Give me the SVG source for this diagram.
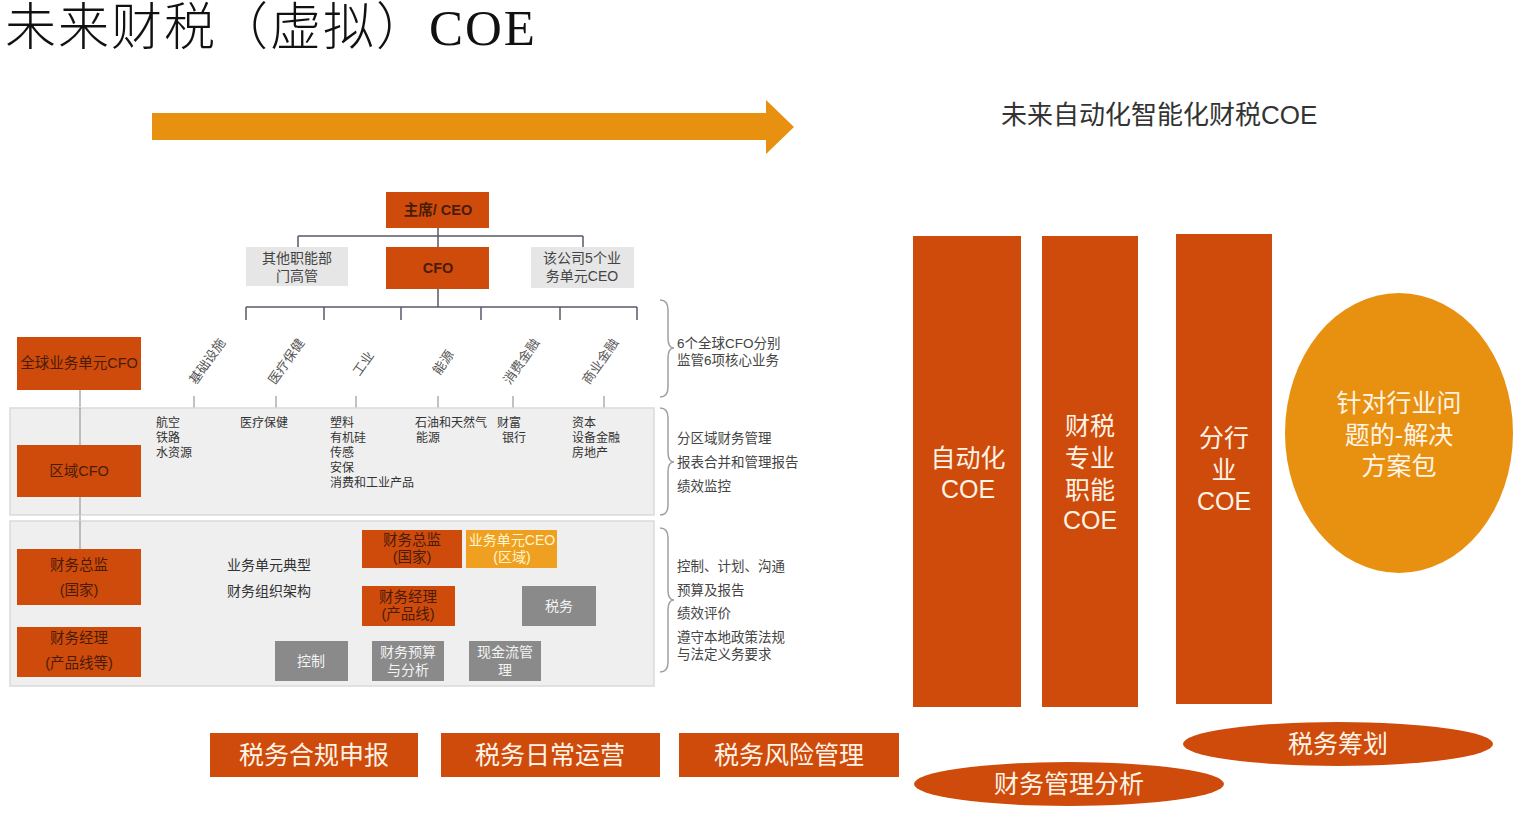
<svg xmlns="http://www.w3.org/2000/svg" width="1522" height="817" viewBox="0 0 1522 817">
<style>
text{font-family:"Liberation Sans","Noto Sans CJK SC",sans-serif}
.or{fill:#CE4B0B}
.am{fill:#E8900F}
.gl{fill:#E6E6E6}
.gd{fill:#8A8A8A}
.band{fill:#EFEFEF;stroke:#DADADA;stroke-width:1.5}
.ln{stroke:#5A5A6A;stroke-width:1.5;fill:none}
.lg{stroke:#9A9A9A;stroke-width:1.2;fill:none}
.br{stroke:#A0A0A0;stroke-width:1.5;fill:none}
.t14{font-size:14.5px;fill:#4A1C08;text-anchor:middle}
.tg{font-size:14px;fill:#444;text-anchor:middle}
.tw{font-size:14px;fill:#F3F3F3;text-anchor:middle}
.s12{font-size:12px;fill:#333}
.rt{font-size:13px;fill:#555;text-anchor:middle}
.side{font-size:13.5px;fill:#444}
.big{font-size:25px;fill:#FFF3E6;text-anchor:middle}
.bot{font-size:25px;fill:#FFF3E6;text-anchor:middle}
</style>
<rect width="1522" height="817" fill="#FFFFFF"/>
<text x="5" y="45" style="font-family:'Liberation Serif','Noto Sans CJK SC',serif;font-size:51px;font-weight:300;fill:#111;letter-spacing:2px">未来财税（虚拟）COE</text>
<g id="arrow"><polygon class="am" points="152,113 766,113 766,100 794,127 766,154 766,140 152,140"/></g>
<text x="1001" y="124" style="font-size:26px;fill:#333">未来自动化智能化财税COE</text>

<g id="connectors">
<path class="ln" d="M438,228 V247 M298,236 H583 M298,236 V247 M583,236 V247"/>
<path class="ln" d="M438,289 V307 M246,307 H637 M246,307 V320 M324,307 V320 M401,307 V320 M481,307 V320 M560,307 V320 M637,307 V320"/>
<path class="lg" d="M194,396 V410 M276,396 V410 M356,396 V410 M438,396 V410 M513,396 V410 M604,396 V410"/>
<path class="lg" d="M80,390 V445 M80,497 V549 M80,605 V627"/>
<path class="lg" d="M410,568 V586 M410,577 H560 M514,568 V577 M560,577 V586"/>
<path class="lg" d="M410,626 V634 M312,634 H506 M312,634 V641 M408,634 V641 M506,634 V641"/>
</g>

<g id="band1"><rect class="band" x="10" y="408" width="644" height="107"/></g>
<g id="band2"><rect class="band" x="10" y="521" width="644" height="165"/></g>
<path class="lg" d="M80,408 V515 M80,521 V549"/>

<g id="ceo"><rect class="or" x="386" y="192" width="103" height="36"/><text class="t14" x="438" y="215" font-weight="bold">主席/ CEO</text></g>
<g id="other"><rect class="gl" x="246" y="247" width="102" height="39"/><text class="tg" x="297" y="263">其他职能部<tspan x="297" dy="18">门高管</tspan></text></g>
<g id="cfo"><rect class="or" x="386" y="247" width="103" height="42"/><text class="t14" x="438" y="273" font-weight="bold">CFO</text></g>
<g id="bu5"><rect class="gl" x="531" y="247" width="103" height="41"/><text class="tg" x="582" y="263">该公司5个业<tspan x="582" dy="18">务单元CEO</tspan></text></g>

<g id="rot">
<text class="rt" transform="translate(211,364) rotate(-55)">基础设施</text>
<text class="rt" transform="translate(290,364) rotate(-55)">医疗保健</text>
<text class="rt" transform="translate(367,366) rotate(-55)">工业</text>
<text class="rt" transform="translate(447,365) rotate(-55)">能源</text>
<text class="rt" transform="translate(525,364) rotate(-55)">消费金融</text>
<text class="rt" transform="translate(604,364) rotate(-55)">商业金融</text>
</g>

<g id="gcfo"><rect class="or" x="17" y="337" width="124" height="53"/><text class="t14" x="79" y="368">全球业务单元CFO</text></g>
<g id="rcfo"><rect class="or" x="17" y="445" width="124" height="52"/><text class="t14" x="79" y="476">区域CFO</text></g>
<g id="fd"><rect class="or" x="17" y="549" width="124" height="56"/><text class="t14" x="79" y="570">财务总监<tspan x="79" dy="25">(国家)</tspan></text></g>
<g id="fm"><rect class="or" x="17" y="627" width="124" height="50"/><text class="t14" x="79" y="643">财务经理<tspan x="79" dy="25">(产品线等)</tspan></text></g>

<g id="band1text">
<text class="s12" x="156" y="427">航空<tspan x="156" dy="15">铁路</tspan><tspan x="156" dy="15">水资源</tspan></text>
<text class="s12" x="240" y="427">医疗保健</text>
<text class="s12" x="330" y="427">塑料<tspan x="330" dy="15">有机硅</tspan><tspan x="330" dy="15">传感</tspan><tspan x="330" dy="15">安保</tspan><tspan x="330" dy="15">消费和工业产品</tspan></text>
<text class="s12" x="415" y="427">石油和天然气<tspan x="416" dy="15">能源</tspan></text>
<text class="s12" x="497" y="427">财富<tspan x="502" dy="15">银行</tspan></text>
<text class="s12" x="572" y="427">资本<tspan x="572" dy="15">设备金融</tspan><tspan x="572" dy="15">房地产</tspan></text>
</g>

<g id="band2text">
<text x="227" y="570" style="font-size:14px;fill:#333">业务单元典型<tspan x="227" dy="26">财务组织架构</tspan></text>
</g>
<g id="fd2"><rect class="or" x="362" y="530" width="100" height="38"/><text class="t14" x="412" y="545">财务总监<tspan x="412" dy="17">(国家)</tspan></text></g>
<g id="buceo"><rect x="466" y="530" width="91" height="38" fill="#F0A020"/><text x="512" y="545" style="font-size:14px;fill:#FFF6D0;text-anchor:middle">业务单元CEO<tspan x="512" dy="17">(区域)</tspan></text></g>
<g id="fm2"><rect class="or" x="362" y="586" width="93" height="40"/><text class="t14" x="408" y="602">财务经理<tspan x="408" dy="17">(产品线)</tspan></text></g>
<g id="tax"><rect class="gd" x="522" y="586" width="74" height="40"/><text class="tw" x="559" y="611">税务</text></g>
<g id="ctl"><rect class="gd" x="275" y="641" width="73" height="40"/><text class="tw" x="311" y="666">控制</text></g>
<g id="bud"><rect class="gd" x="372" y="641" width="72" height="40"/><text class="tw" x="408" y="657">财务预算<tspan x="408" dy="18">与分析</tspan></text></g>
<g id="cash"><rect class="gd" x="469" y="641" width="72" height="40"/><text class="tw" x="505" y="657">现金流管<tspan x="505" dy="18">理</tspan></text></g>

<g id="braces">
<path class="br" d="M660,300 Q668,300 668,310 V338 Q668,348 674,348 Q668,348 668,358 V387 Q668,397 660,397"/>
<path class="br" d="M660,408 Q668,408 668,418 V452 Q668,462 674,462 Q668,462 668,472 V505 Q668,515 660,515"/>
<path class="br" d="M660,528 Q668,528 668,538 V590 Q668,600 674,600 Q668,600 668,610 V662 Q668,672 660,672"/>
<text class="side" x="677" y="348">6个全球CFO分别<tspan x="677" dy="17">监管6项核心业务</tspan></text>
<text class="side" x="677" y="443">分区域财务管理<tspan x="677" dy="24">报表合并和管理报告</tspan><tspan x="677" dy="24">绩效监控</tspan></text>
<text class="side" x="677" y="571">控制、计划、沟通<tspan x="677" dy="24">预算及报告</tspan><tspan x="677" dy="23">绩效评价</tspan><tspan x="677" dy="24">遵守本地政策法规</tspan><tspan x="677" dy="17">与法定义务要求</tspan></text>
</g>

<g id="auto"><rect class="or" x="913" y="236" width="108" height="471"/><text class="big" x="968" y="467">自动化<tspan x="968" dy="31">COE</tspan></text></g>
<g id="func"><rect class="or" x="1042" y="236" width="96" height="471"/><text class="big" x="1090" y="435">财税<tspan x="1090" dy="32">专业</tspan><tspan x="1090" dy="32">职能</tspan><tspan x="1090" dy="30">COE</tspan></text></g>
<g id="ind"><rect class="or" x="1176" y="234" width="96" height="470"/><text class="big" x="1224" y="447">分行<tspan x="1224" dy="32">业</tspan><tspan x="1224" dy="31">COE</tspan></text></g>
<g id="sol"><ellipse class="am" cx="1399" cy="433" rx="114" ry="140"/><text class="big" x="1399" y="412">针对行业问<tspan x="1399" dy="32">题的-解决</tspan><tspan x="1399" dy="31">方案包</tspan></text></g>

<g id="b1"><rect class="or" x="210" y="733" width="208" height="44"/><text class="bot" x="314" y="764">税务合规申报</text></g>
<g id="b2"><rect class="or" x="441" y="733" width="219" height="44"/><text class="bot" x="550" y="764">税务日常运营</text></g>
<g id="b3"><rect class="or" x="679" y="733" width="220" height="44"/><text class="bot" x="789" y="764">税务风险管理</text></g>
<g id="e1"><ellipse class="or" cx="1069" cy="784" rx="155" ry="22"/><text class="bot" x="1069" y="793">财务管理分析</text></g>
<g id="e2"><ellipse class="or" cx="1338" cy="744" rx="155" ry="22"/><text class="bot" x="1338" y="753">税务筹划</text></g>
</svg>
